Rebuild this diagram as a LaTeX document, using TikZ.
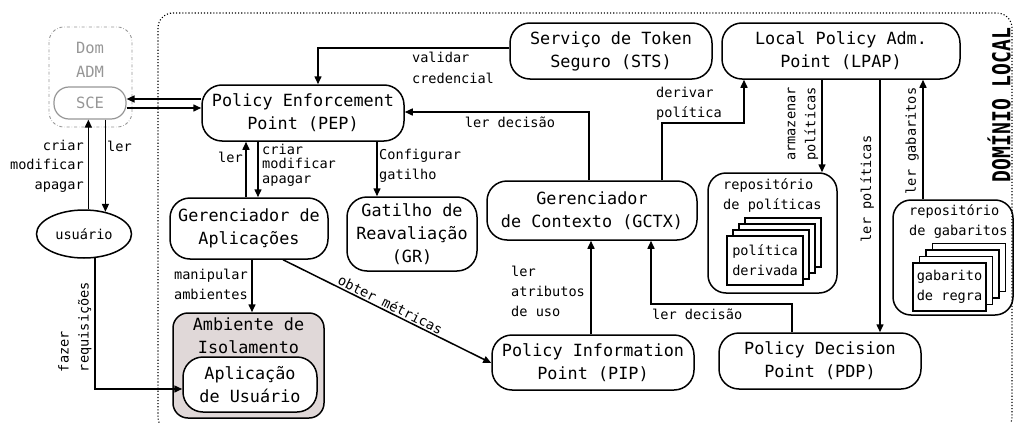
\documentclass[tikz,border=0pt]{standalone}
\usepackage{fontspec}
\setmainfont{DejaVu Sans Mono}
\newfontfamily\domfont[FakeStretch=0.8]{DejaVu Sans Mono}
\usetikzlibrary{arrows.meta,calc,shapes.geometric}
\definecolor{admgray}{RGB}{150,150,150}
\definecolor{aifill}{RGB}{224,216,216}
\begin{document}
\begin{tikzpicture}[x=1pt,y=-1pt,
  nfont/.style={font=\fontsize{16.8}{23}\selectfont},
  lfont/.style={font=\fontsize{13.6}{20}\selectfont},
  box/.style={draw, line width=1.5pt, rounded corners=20pt, align=center, inner sep=0pt, nfont},
  lbl/.style={lfont, inner sep=0pt, align=left},
  arr/.style={line width=1.5pt, -{Triangle[length=8pt,width=7pt]}},
  card/.style={draw, line width=1.4pt, fill=white, inner sep=0pt, align=left, lfont},
]
\useasboundingbox (0,0) rectangle (1015,423);

% frames
\draw[dotted, line width=1.1pt, rounded corners=15pt] (158,13) rectangle (1012,432);
\draw[admgray, dash dot, line width=0.9pt, rounded corners=15pt] (49,27) rectangle (132,127);
\node[text=admgray, align=center, inner sep=0pt, font=\fontsize{15.5}{24}\selectfont] (domadm) at (90,60) {Dom\\ADM};
\node[box, draw=admgray, text=admgray, line width=1.2pt, rounded corners=15pt, minimum width=72pt, minimum height=32pt, font=\fontsize{15.5}{24}\selectfont] (sce) at (90,103) {SCE};

\node[rotate=90, inner sep=0pt, font={\domfont\bfseries\fontsize{24.7}{26}\selectfont}] (dl) at (999,105) {DOMÍNIO LOCAL};

% main nodes
\node[box, minimum width=202pt, minimum height=56pt] (pep) at (303,113) {Policy Enforcement\\Point (PEP)};
\node[box, minimum width=202pt, minimum height=56pt] (sts) at (611,51) {Serviço de Token\\Seguro (STS)};
\node[box, minimum width=238pt, minimum height=56pt] (lpap) at (841,51) {Local Policy Adm.\\Point (LPAP)};
\node[box, minimum width=158pt, minimum height=61pt] (ga) at (249,228.5) {Gerenciador de\\Aplicações};
\node[box, minimum width=130pt, minimum height=74pt] (gr) at (412,234) {Gatilho de\\Reavaliação\\(GR)};
\node[box, minimum width=210pt, minimum height=59pt] (gctx) at (592,210.5) {Gerenciador\\de Contexto (GCTX)};
\node[box, minimum width=202pt, minimum height=55pt] (pip) at (593,362.5) {Policy Information\\Point (PIP)};
\node[box, minimum width=202pt, minimum height=56pt] (pdp) at (820,361) {Policy Decision\\Point (PDP)};

\node[draw, ellipse, line width=1.5pt, minimum width=95pt, minimum height=48pt, inner sep=0pt, lfont] (usuario) at (84,234) {usuário};

\node[box, fill=aifill, rounded corners=15pt, minimum width=151pt, minimum height=105pt] (ai) at (248.5,365.5) {};
\node[nfont, align=center, inner sep=0pt] (aitext) at (248.5,335.5) {Ambiente de\\Isolamento};
\node[box, fill=white, minimum width=134pt, minimum height=55pt] (app) at (250,384.5) {Aplicação\\de Usuário};

% repositories
\node[box, rounded corners=18pt, minimum width=129pt, minimum height=120pt] (repopol) at (772.5,233) {};
\node[lbl, anchor=west] (repopoltext) at (723,195) {repositório\\de políticas};
\foreach \i in {3,2,1}
  \node[card, minimum width=76pt, minimum height=49pt] (pc\i) at ({765+6*\i},{260.5-6*\i}) {};
\node[card, minimum width=76pt, minimum height=49pt] (pc0) at (765,260.5) {política\\derivada};

\node[box, rounded corners=18pt, minimum width=120pt, minimum height=115pt] (repogab) at (953,257.5) {};
\node[lbl, anchor=west] (repogabtext) at (909,222) {repositório\\de gabaritos};
\foreach \i in {3,2,1}
  \node[card, minimum width=73pt, minimum height=48pt] (gc\i) at ({949.5+6.5*\i},{287-6.5*\i}) {};
\node[card, minimum width=73pt, minimum height=48pt] (gc0) at (949.5,287) {gabarito\\de regra};

% helper coordinates
\coordinate (y99) at (0,99);
\coordinate (y108) at (0,108);
\coordinate (x246) at (246,0);
\coordinate (x258) at (258,0);
\coordinate (x377) at (377,0);
\coordinate (x589) at (589,0);
\coordinate (x662) at (662,0);
\coordinate (d1) at (744,123);
\coordinate (x822) at (822,0);
\coordinate (x880) at (880,0);
\coordinate (x923) at (923,0);
\coordinate (x591) at (591,0);
\coordinate (x792) at (792,0);
\coordinate (d2) at (651,304);
\coordinate (x252) at (252,0);
\coordinate (x283) at (283,0);

% connectors
\draw[arr] ([yshift=3pt]sts.west) -| ([xshift=15pt]pep.north);
\node[lbl, font=\fontsize{13.6}{21}\selectfont] at (453,68) {validar\\credencial};

\draw[arr] (pep.west |- y99) -- (sce.east |- y99);
\draw[arr] (sce.east |- y108) -- (pep.west |- y108);

\draw[arr] (usuario.80) -- (sce.south -| usuario.80);
\draw[arr] (sce.south -| usuario.46) -- (usuario.46);
\node[lbl, align=right, anchor=east, font=\fontsize{13.6}{19.5}\selectfont] at (84,166) {criar\\modificar\\apagar};
\node[lbl, anchor=west] at (107,146) {ler};

\draw[arr] (ga.north -| x246) -- (pep.south -| x246);
\draw[arr] (pep.south -| x258) -- (ga.north -| x258);
\node[lbl, anchor=east] at (243,157) {ler};
\node[lbl, anchor=west, font=\fontsize{13.6}{14.5}\selectfont] at (262,165) {criar\\modificar\\apagar};

\draw[arr] (pep.south -| x377) -- (gr.north -| x377);
\node[lbl, anchor=west, font=\fontsize{13.6}{19.5}\selectfont] at (379,166) {Configurar\\gatilho};

\draw[arr] (gctx.north -| x589) |- ([yshift=1pt]pep.east);
\node[lbl] at (510,122) {ler decisão};

\draw[arr] (gctx.north -| x662) |- (d1) -- (lpap.south -| d1);
\node[lbl, anchor=west] at (656,104) {derivar\\política};

\draw[arr] (lpap.south -| x822) -- (repopol.north -| x822);
\node[lbl, rotate=90, align=center] at (803,124) {armazenar\\políticas};

\draw[arr] (lpap.south -| x880) -- (pdp.north -| x880);
\node[lbl, rotate=90] at (867,189) {ler políticas};

\draw[arr] (repogab.north -| x923) -- (lpap.south -| x923);
\node[lbl, rotate=90] at (912,141) {ler gabaritos};

\draw[arr] (pip.north -| x591) -- (gctx.south -| x591);
\node[lbl, anchor=west] at (511,291) {ler\\atributos\\de uso};

\draw[arr] (pdp.north -| x792) |- (d2) -- (gctx.south -| d2);
\node[lbl, anchor=west] at (652,314) {ler decisão};

\draw[arr] (ga.south -| x252) -- (ai.north -| x252);
\node[lbl, anchor=east, align=right] at (248,284) {manipular\\ambientes};

\draw[arr] (ga.south -| x283) -- node[lbl, sloped, above, inner sep=1.5pt, pos=0.5] {obter métricas} ([yshift=-0.5pt]pip.west);

\draw[arr] (usuario.295) |- ([yshift=-4.5pt]app.west);
\node[lbl, rotate=90, align=left] at (75,327) {fazer\\requisições};
\end{tikzpicture}
\end{document}
